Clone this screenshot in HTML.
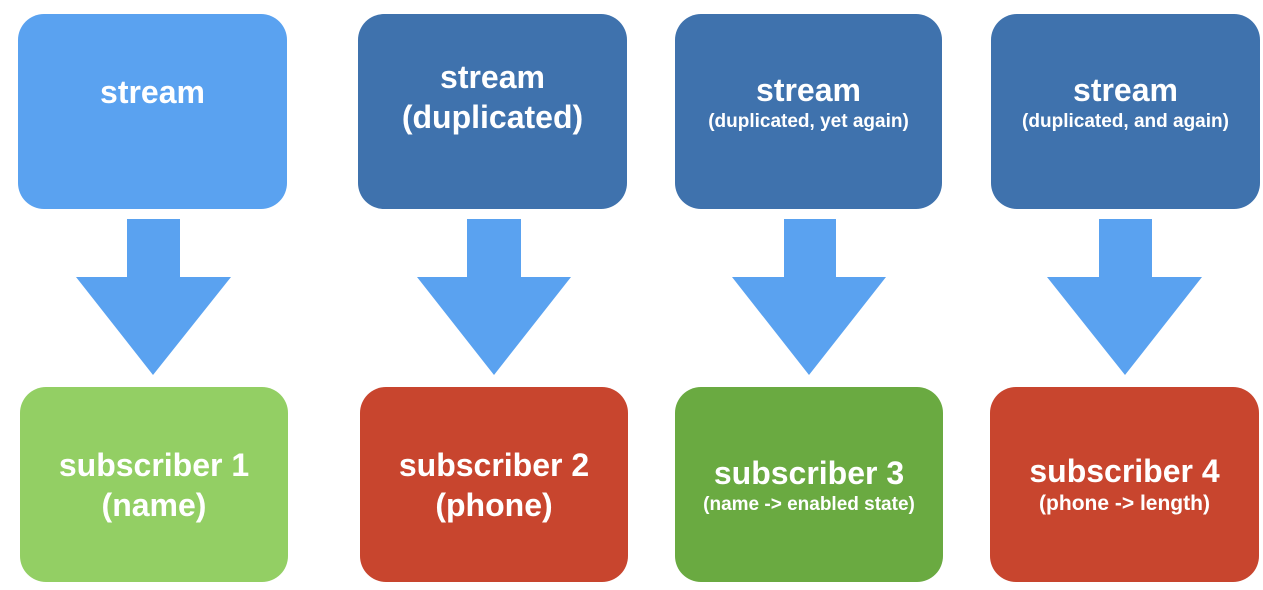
<!DOCTYPE html>
<html><head><style>
body{margin:0;width:1263px;height:590px;background:#fff;position:relative;overflow:hidden;font-family:"Liberation Sans",sans-serif;font-weight:bold;color:#fff}
.b{position:absolute;border-radius:26px;display:flex;flex-direction:column;align-items:center;justify-content:center;text-align:center;line-height:1.25}
.big{font-size:32px}.sm{font-size:19px}
</style></head><body>
<div class="b" style="left:18px;top:14px;width:269px;height:195px;background:#5aa2f0;justify-content:flex-start"><div class="big" style="margin-top:58px">stream</div></div>
<div class="b" style="left:358px;top:14px;width:269px;height:195px;background:#3f72ad"><div class="big" style="margin-top:-30px">stream<br>(duplicated)</div></div>
<div class="b" style="left:675px;top:14px;width:267px;height:195px;background:#3f72ad"><div class="big" style="margin-top:-20px">stream</div><div class="sm">(duplicated, yet again)</div></div>
<div class="b" style="left:991px;top:14px;width:269px;height:195px;background:#3f72ad"><div class="big" style="margin-top:-20px">stream</div><div class="sm">(duplicated, and again)</div></div>
<svg style="position:absolute;left:0;top:0" width="1263" height="590">
<g fill="#5aa2f0">
<polygon points="127,219 180,219 180,277 231,277 153,375 76,277 127,277"/>
<polygon points="467,219 521,219 521,277 571,277 494,375 417,277 467,277"/>
<polygon points="784,219 836,219 836,277 886,277 809,375 732,277 784,277"/>
<polygon points="1099,219 1152,219 1152,277 1202,277 1125,375 1047,277 1099,277"/>
</g></svg>
<div class="b big" style="left:20px;top:387px;width:268px;height:195px;background:#93cf64">subscriber 1<br>(name)</div>
<div class="b big" style="left:360px;top:387px;width:268px;height:195px;background:#c8452e">subscriber 2<br>(phone)</div>
<div class="b" style="left:675px;top:387px;width:268px;height:195px;background:#6aaa41"><div class="big">subscriber 3</div><div class="sm">(name -&gt; enabled state)</div></div>
<div class="b" style="left:990px;top:387px;width:269px;height:195px;background:#c8452e"><div class="big">subscriber 4</div><div class="sm" style="font-size:21px">(phone -&gt; length)</div></div>
</body></html>
